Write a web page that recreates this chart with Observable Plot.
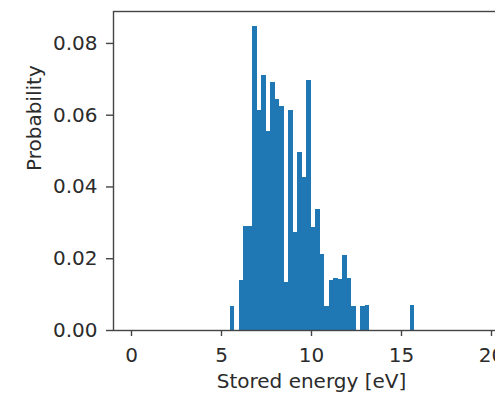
<!DOCTYPE html>
<html>
<head>
<meta charset="utf-8">
<script src="https://cdn.jsdelivr.net/npm/d3@7"></script>
<script src="https://cdn.jsdelivr.net/npm/@observablehq/plot@0.6"></script>
<style>
  html, body { margin: 0; padding: 0; background: #fff; overflow: hidden; width: 495px; height: 395px; }
  #chart { width: 495px; height: 395px; overflow: hidden; }
  #chart svg { display: block; max-width: none !important; width: 519px !important; height: 395px !important; }
</style>
</head>
<body>
<div id="chart"></div>
<script>
// Histogram bin edges (eV)
const binEdges = [5.49, 5.74, 5.99, 6.24, 6.49, 6.74, 6.99, 7.24, 7.49, 7.74,
                  7.99, 8.24, 8.49, 8.74, 8.99, 9.24, 9.49, 9.74, 9.99, 10.24,
                  10.49, 10.74, 10.99, 11.24, 11.49, 11.74, 11.99, 12.24, 12.49, 12.74,
                  12.99, 13.24, 13.49, 13.74, 13.99, 14.24, 14.49, 14.74, 14.99, 15.24,
                  15.49, 15.74];
// Probability per bin
const probability = [0.0067, 0, 0.0139, 0.0289, 0.0289, 0.0847, 0.0613, 0.0710, 0.0554, 0.0690,
                     0.0644, 0.0625, 0.0134, 0.0613, 0.0273, 0.0495, 0.0426, 0.0697, 0.0287, 0.0338,
                     0.0211, 0.0067, 0.0139, 0.0145, 0.0142, 0.0208, 0.0145, 0.0067, 0, 0.0067,
                     0.0070, 0, 0, 0, 0, 0, 0, 0, 0, 0,
                     0.0070];
const xTicks = [0, 5, 10, 15, 20];
const yTicks = [0, 0.02, 0.04, 0.06, 0.08];
const xLabel = "Stored energy [eV]";
const yLabel = "Probability";

const bins = probability.map((p, i) => ({x1: binEdges[i], x2: binEdges[i + 1], p}));

const ink = "#2b2b2b";
const chart = Plot.plot({
  width: 519,
  height: 395,
  marginTop: 11,
  marginBottom: 65,
  marginLeft: 113,
  marginRight: 10,
  style: {fontFamily: "DejaVu Sans, sans-serif", fontSize: "20px", color: ink, background: "#fff", maxWidth: "none"},
  x: {domain: [-1, 21]},
  y: {domain: [0, 0.0889]},
  marks: [
    Plot.rectY(bins, {x1: "x1", x2: "x2", y: "p", fill: "#1f77b4", inset: 0, shapeRendering: "crispEdges"}),
    Plot.frame({stroke: "#444", strokeWidth: 1.4}),
    Plot.axisX({ticks: xTicks, tickSize: 6, tickPadding: 11, label: null, stroke: "#444", strokeWidth: 1.4, fontSize: 20}),
    Plot.axisY({ticks: yTicks, tickSize: 7, tickPadding: 9, tickFormat: d3.format(".2f"), label: null, stroke: "#444", strokeWidth: 1.4, fontSize: 20}),
    Plot.text([xLabel], {frameAnchor: "bottom", dy: 57, text: d => d, fontSize: 20, fill: ink}),
    Plot.text([yLabel], {frameAnchor: "left", dx: -79, rotate: -90, text: d => d, fontSize: 20, fill: ink})
  ]
});
document.getElementById("chart").appendChild(chart);
</script>
</body>
</html>
